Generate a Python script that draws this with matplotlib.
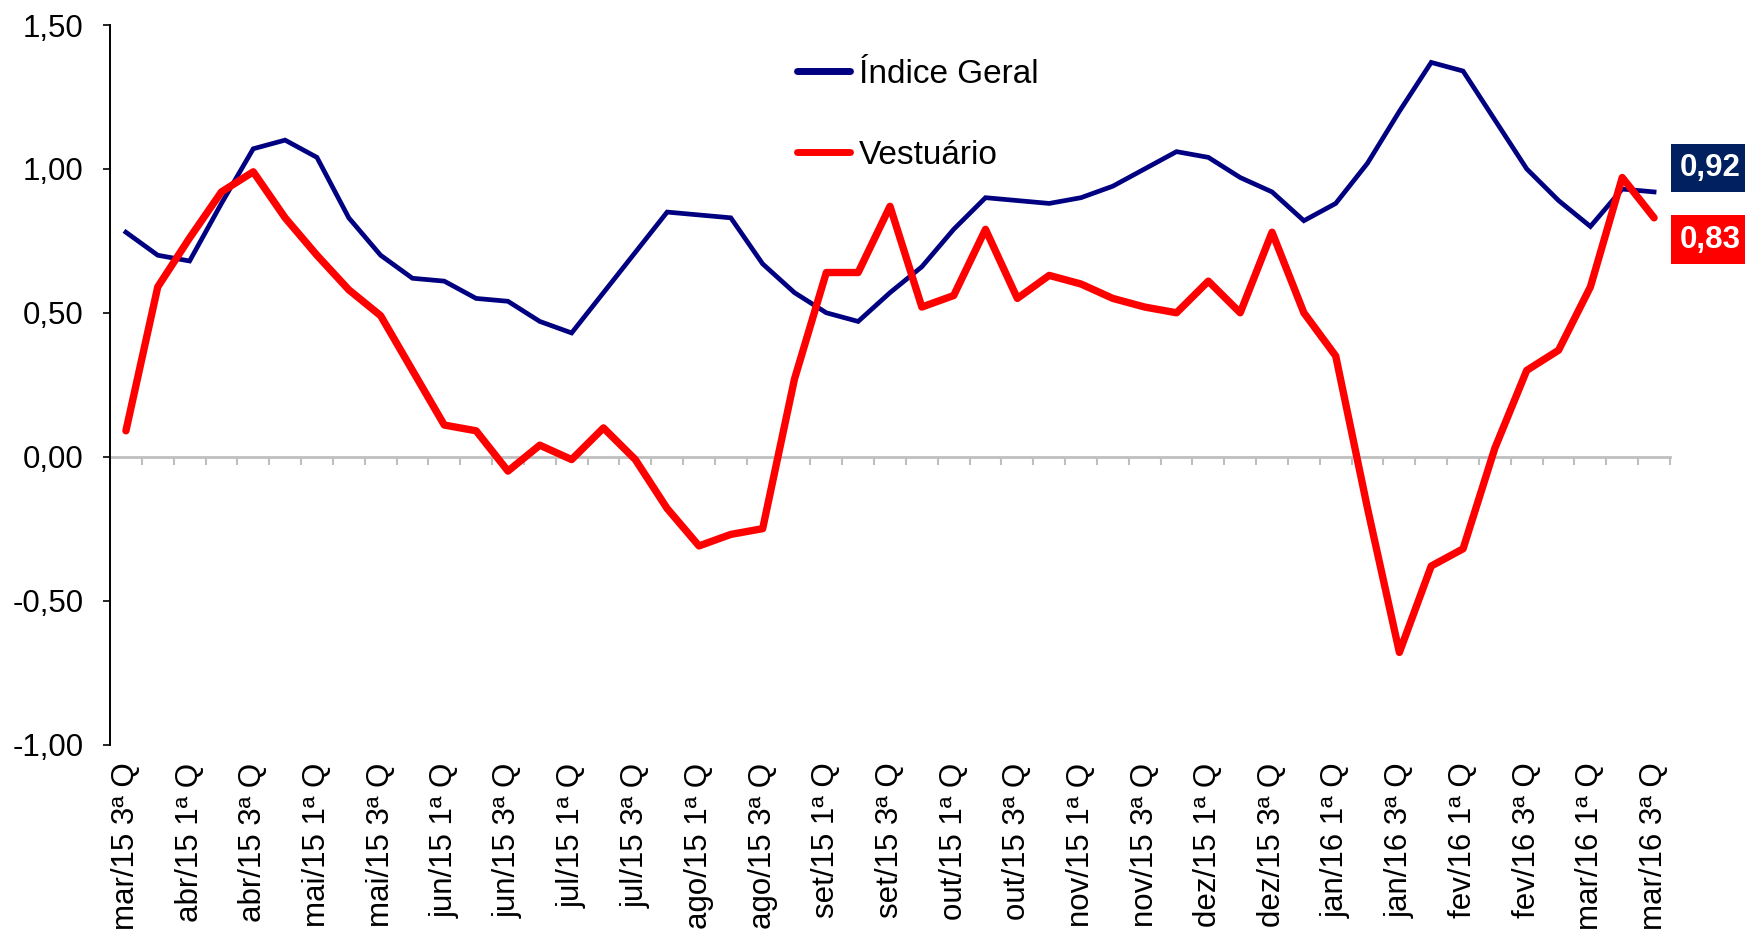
import matplotlib
matplotlib.use("Agg")
import matplotlib.pyplot as plt
import numpy as np

plt.rcParams['font.family'] = ['Liberation Sans', 'DejaVu Sans']

tick_labels = ["mar/15 3ª Q", "abr/15 1ª Q", "abr/15 3ª Q", "mai/15 1ª Q", "mai/15 3ª Q",
               "jun/15 1ª Q", "jun/15 3ª Q", "jul/15 1ª Q", "jul/15 3ª Q", "ago/15 1ª Q",
               "ago/15 3ª Q", "set/15 1ª Q", "set/15 3ª Q", "out/15 1ª Q", "out/15 3ª Q",
               "nov/15 1ª Q", "nov/15 3ª Q", "dez/15 1ª Q", "dez/15 3ª Q", "jan/16 1ª Q",
               "jan/16 3ª Q", "fev/16 1ª Q", "fev/16 3ª Q", "mar/16 1ª Q", "mar/16 3ª Q"]

indice_geral = [0.78, 0.70, 0.68, 0.88, 1.07, 1.10, 1.04, 0.83, 0.70, 0.62,
                0.61, 0.55, 0.54, 0.47, 0.43, 0.57, 0.71, 0.85, 0.84, 0.83,
                0.67, 0.57, 0.50, 0.47, 0.57, 0.66, 0.79, 0.90, 0.89, 0.88,
                0.90, 0.94, 1.00, 1.06, 1.04, 0.97, 0.92, 0.82, 0.88, 1.02,
                1.20, 1.37, 1.34, 1.17, 1.00, 0.89, 0.80, 0.93, 0.92]

vestuario = [0.09, 0.59, 0.76, 0.92, 0.99, 0.83, 0.70, 0.58, 0.49, 0.30,
             0.11, 0.09, -0.05, 0.04, -0.01, 0.10, -0.01, -0.18, -0.31, -0.27,
             -0.25, 0.27, 0.64, 0.64, 0.87, 0.52, 0.56, 0.79, 0.55, 0.63,
             0.60, 0.55, 0.52, 0.50, 0.61, 0.50, 0.78, 0.50, 0.35, -0.18,
             -0.68, -0.38, -0.32, 0.03, 0.30, 0.37, 0.59, 0.97, 0.83]

series_names = ["Índice Geral", "Vestuário"]
last_labels = ["0,92", "0,83"]

W, H = 1745, 938
fig = plt.figure(figsize=(W / 100, H / 100), dpi=100)
left, right, top, bottom = 110, 1670, 25, 744.5
ax = fig.add_axes([left / W, 1 - bottom / H, (right - left) / W, (bottom - top) / H])

n = len(indice_geral)
x = np.arange(n)
navy = '#000080'
red = '#FF0000'
ax.plot(x, indice_geral, color=navy, lw=3.4, solid_joinstyle='miter', label=series_names[0])
ax.plot(x, vestuario, color=red, lw=5.3, solid_joinstyle='round', solid_capstyle='round', label=series_names[1])

ax.set_xlim(-0.5, n - 0.5)
ax.set_ylim(-1.0, 1.5)
yt = np.arange(-1.0, 1.51, 0.5)
ax.set_yticks(yt)
ax.set_yticklabels([f"{v:.2f}".replace('.', ',') for v in yt])
ax.tick_params(axis='y', direction='out', length=5, width=1.2, color='black',
               labelsize=22.5, pad=14)

ax.set_xticks(x[::2])
ax.set_xticklabels(tick_labels, rotation=90, ha='center', va='top', fontsize=22.5)
ax.tick_params(axis='x', length=0, pad=13)

for s in ['top', 'right', 'bottom']:
    ax.spines[s].set_visible(False)
ax.spines['left'].set_linewidth(1.4)
ax.spines['left'].set_color('black')

# zero line with category boundary tick marks
gray = '#BFBFBF'
zero_frac = (0 - (-1.0)) / (1.5 - (-1.0))
sec = ax.secondary_xaxis(zero_frac)
sec.set_xticks(np.arange(n + 1) - 0.5)
sec.tick_params(axis='x', direction='out', length=6, width=1.5, color=gray,
                labelbottom=False, labeltop=False)
for s in sec.spines.values():
    s.set_color(gray)
    s.set_linewidth(2)

leg = ax.legend(loc='upper left', bbox_to_anchor=(797 / W, 1 - 59 / H),
                bbox_transform=fig.transFigure, frameon=False, fontsize=24,
                handlelength=1.6, handletextpad=0.25, labelspacing=1.5,
                borderpad=0, borderaxespad=0)
for lh in leg.get_lines():
    lh.set_linewidth(5)
    lh.set_solid_capstyle('round')

# end-of-series value labels
ax.annotate(last_labels[0], xy=(n - 1, indice_geral[-1]), xytext=(26, 24),
            textcoords='offset pixels', ha='left', va='center', fontsize=22.5,
            fontweight='bold', color='white', annotation_clip=False,
            bbox=dict(boxstyle='square,pad=0.3', fc='#002060', ec='none'))
ax.annotate(last_labels[1], xy=(n - 1, vestuario[-1]), xytext=(26, -22),
            textcoords='offset pixels', ha='left', va='center', fontsize=22.5,
            fontweight='bold', color='white', annotation_clip=False,
            bbox=dict(boxstyle='square,pad=0.3', fc=red, ec='none'))

fig.savefig('out.png', dpi=100)
